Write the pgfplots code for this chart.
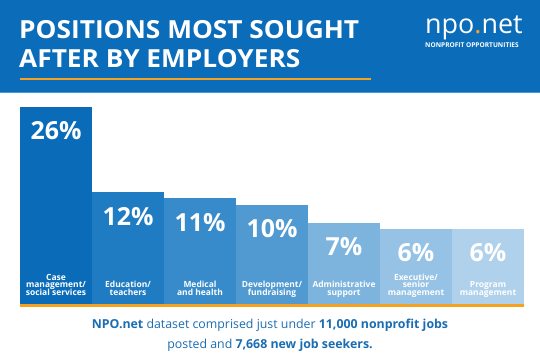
\documentclass[border=0pt]{standalone}
\usepackage{pgfplots}
\pgfplotsset{compat=1.18}
\usepackage{fontspec}
\setmainfont{Open Sans}
\definecolor{hdr}{HTML}{0B6DBA}
\definecolor{hdrline}{HTML}{4C9AD6}
\definecolor{org}{HTML}{F4A21F}
\definecolor{cA}{HTML}{0A6CB9}
\definecolor{cB}{HTML}{207CC2}
\definecolor{cC}{HTML}{388BCA}
\definecolor{cD}{HTML}{5099D1}
\definecolor{cE}{HTML}{7CB4DE}
\definecolor{cF}{HTML}{95C2E5}
\definecolor{cG}{HTML}{AFD1EC}
\definecolor{txt}{HTML}{1B6DB3}
\newcommand\tightlines{\lineskiplimit=-20pt\relax\lineskip=0pt\relax}
\begin{document}
\begin{tikzpicture}[x=1bp,y=1bp]
\path[use as bounding box] (0,0) rectangle (540,360);
\fill[white] (0,0) rectangle (540,360);
% header
\fill[hdr] (0,268) rectangle (540,360);
\fill[hdrline] (0,267) rectangle (540,268.5);
\node[anchor=base west, inner sep=0pt, text=white, font=\fontsize{25}{28}\selectfont\bfseries] at (19,322) {\scalebox{1.055}[1]{POSITIONS MOST SOUGHT}};
\node[anchor=base west, inner sep=0pt, text=white, font=\fontsize{25}{28}\selectfont\bfseries] at (19,293) {\scalebox{1.055}[1]{AFTER BY EMPLOYERS}};
\draw[org, line width=1.5bp] (20,281) -- (371,281);
\node[anchor=base west, inner sep=0pt, text=white, font=\fontsize{27}{30}\selectfont] at (425,327) {npo\textcolor{org}{.}net};
\node[anchor=base west, inner sep=0pt, text=white, font=\fontsize{6.6}{7}\selectfont\bfseries] at (425,313) {NONPROFIT OPPORTUNITIES};
\begin{axis}[
  at={(20bp,56bp)}, anchor=south west,
  scale only axis, width=504bp, height=197bp,
  xmin=-0.5, xmax=6.5, ymin=0, ymax=32.3,
  y filter/.expression={y+6.3},
  ybar, bar width=72bp, bar shift=0pt,
  axis line style={draw=none}, tick style={draw=none},
  ytick=\empty, xtick={0,1,2,3,4,5,6},
  xticklabels={{Case\\[-1.5bp]management/\\[-1.5bp]social services},{Education/\\[-1.5bp]teachers},{Medical\\[-1.5bp]and health},{Development/\\[-1.5bp]fundraising},{Administrative\\[-1.5bp]support},{Executive/\\[-1.5bp]senior\\[-1.5bp]management},{Program\\[-1.5bp]management}},
  xticklabel style={anchor=south, yshift=13bp, inner sep=0pt, align=center, text=white, text depth=0pt,
    font=\fontsize{8.5}{8.9}\selectfont\bfseries\tightlines},
  nodes near coords, point meta=explicit symbolic,
  every node near coord/.append style={anchor=north, yshift=-14.5bp, inner sep=0pt, text=white,
    font=\fontsize{25}{28}\selectfont\bfseries},
  clip=false, axis on top,
]
\addplot[fill=cA, draw=none] coordinates {(0,26) [26\%]};
\addplot[fill=cB, draw=none] coordinates {(1,12) [12\%]};
\addplot[fill=cC, draw=none] coordinates {(2,11) [11\%]};
\addplot[fill=cD, draw=none] coordinates {(3,10) [10\%]};
\addplot[fill=cE, draw=none] coordinates {(4,7) [7\%]};
\addplot[fill=cF, draw=none] coordinates {(5,6) [6\%]};
\addplot[fill=cG, draw=none] coordinates {(6,6) [6\%]};
\end{axis}
\draw[org, line width=3bp] (20,54.5) -- (524,54.5);
\node[anchor=base, inner sep=0pt, text=txt, font=\fontsize{12.4}{14}\selectfont] at (270,31.5) {\textbf{NPO.net} dataset comprised just under \textbf{11,000 nonprofit jobs}};
\node[anchor=base, inner sep=0pt, text=txt, font=\fontsize{12.4}{14}\selectfont] at (270,12) {posted and \textbf{7,668 new job seekers.}};
\end{tikzpicture}
\end{document}
